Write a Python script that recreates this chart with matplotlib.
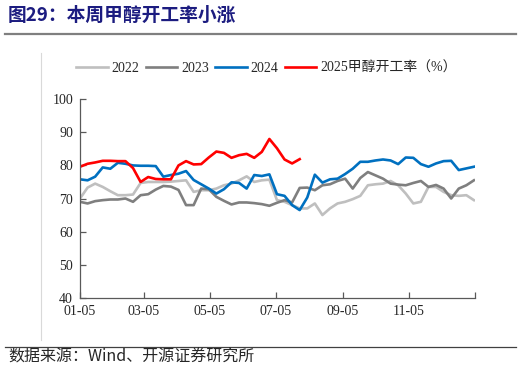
import matplotlib
matplotlib.use("Agg")
import matplotlib.pyplot as plt
import pandas as pd
from matplotlib.lines import Line2D

# ---- data ----
start = "2023-01-05"
tick_labels = ["01-05", "03-05", "05-05", "07-05", "09-05", "11-05", ""]
tick_dates = ["2023-01-05", "2023-03-05", "2023-05-05", "2023-07-05",
              "2023-09-05", "2023-11-05", "2024-01-05"]

y2022 = [70.0, 73.3, 74.5, 73.5, 72.2, 71.0, 71.0, 71.2, 74.7, 75.0,
         75.0, 75.0, 75.1, 75.3, 75.5, 72.0, 72.5, 72.5, 73.0, 74.0,
         74.5, 75.5, 76.7, 75.0, 75.5, 75.7, 69.5, 69.0, 68.0, 67.0,
         67.0, 68.5, 65.0, 67.0, 68.5, 69.0, 69.8, 70.8, 74.0, 74.3,
         74.5, 75.3, 74.0, 71.5, 68.5, 69.0, 73.5, 73.5, 72.0, 71.0,
         70.8, 71.0, 69.5]
y2023 = [69.0, 68.5, 69.2, 69.5, 69.7, 69.7, 70.0, 69.0, 71.0, 71.3,
         72.7, 73.8, 73.6, 72.6, 68.0, 68.0, 73.0, 72.8, 70.5, 69.3,
         68.2, 68.8, 68.8, 68.6, 68.3, 67.8, 68.7, 69.5, 68.8, 73.2,
         73.3, 72.5, 74.0, 74.3, 75.3, 76.0, 73.0, 76.2, 78.0, 77.0,
         76.0, 74.5, 74.2, 74.0, 74.7, 75.3, 73.5, 74.1, 73.0, 70.0,
         73.0, 74.0, 75.5]
y2024 = [75.8, 75.5, 76.6, 79.4, 79.0, 80.8, 80.5, 80.0, 79.9, 79.9,
         79.8, 76.6, 77.1, 77.5, 78.3, 75.6, 74.3, 73.0, 71.5, 72.8,
         74.9, 74.7, 73.0, 77.1, 76.8, 77.3, 71.3, 70.8, 68.0, 66.5,
         70.3, 77.2, 74.8, 75.8, 76.0, 77.4, 79.0, 81.1, 81.1, 81.5,
         81.8, 81.5, 80.4, 82.4, 82.3, 80.4, 79.6, 80.6, 81.3, 81.4,
         78.6, 79.1, 79.6]
y2025 = [79.6, 80.5, 80.9, 81.4, 81.4, 81.3, 81.3, 79.2, 75.0, 76.5,
         75.9, 75.8, 75.8, 80.0, 81.3, 80.3, 80.4, 82.4, 84.2, 83.8,
         82.3, 83.1, 83.5, 82.3, 84.1, 88.0, 85.2, 81.8, 80.6, 81.9]

series = [("2022", y2022, "#BFBFBF"),
          ("2023", y2023, "#7F7F7F"),
          ("2024", y2024, "#0070C0"),
          ("2025甲醇开工率（%）", y2025, "#FF0000")]

# ---- figure ----
W, H = 522, 377
fig = plt.figure(figsize=(W / 100, H / 100), dpi=100)
serif = ["Liberation Serif", "Noto Sans CJK SC", "DejaVu Sans"]
cjk = ["Noto Sans CJK SC", "Liberation Serif", "DejaVu Sans"]

ax = fig.add_axes([80 / W, 1 - 297.7 / H, (475 - 80) / W, (297.7 - 99.3) / H])

for name, vals, col in series:
    dates = pd.date_range(start, periods=len(vals), freq="7D")
    ax.plot(dates, vals, color=col, lw=1.9, label=name, solid_joinstyle="round")

ax.set_xlim(pd.Timestamp(tick_dates[0]), pd.Timestamp(tick_dates[-1]))
ax.set_ylim(40, 100)
ax.set_yticks([40, 50, 60, 70, 80, 90, 100])
ax.set_xticks([pd.Timestamp(d) for d in tick_dates])
ax.set_xticklabels(tick_labels)
for s in ["top", "right"]:
    ax.spines[s].set_visible(False)
for s in ["left", "bottom"]:
    ax.spines[s].set_color("#595959")
    ax.spines[s].set_linewidth(0.9)
ax.tick_params(direction="in", length=4, width=0.9, color="#595959",
               labelsize=10, labelcolor="#262626", pad=5)
for lab in ax.get_xticklabels() + ax.get_yticklabels():
    lab.set_family(serif)

handles = [Line2D([], [], color=c, lw=1.9) for _, _, c in series]
leg = fig.legend(handles, [n for n, _, _ in series], ncol=4, frameon=False,
                 loc="center left", bbox_to_anchor=(76 / W, 1 - 68 / H),
                 borderpad=0, borderaxespad=0, handlelength=2.3,
                 handletextpad=0.25, columnspacing=0.45,
                 prop={"family": serif, "size": 10})
for t in leg.get_texts():
    t.set_color("#262626")

# title
fig.text(8 / W, 1 - 15 / H, "图29：本周甲醇开工率小涨", family=cjk,
         fontsize=13.5, fontweight="bold", color="#1C1C80", va="center", ha="left")
# separator lines
fig.add_artist(Line2D([5 / W, 516 / W], [1 - 33.5 / H, 1 - 33.5 / H],
                      color="#7F7F7F", lw=1.6))
fig.add_artist(Line2D([5 / W, 516 / W], [1 - 346.5 / H, 1 - 346.5 / H],
                      color="#404040", lw=0.9))
fig.add_artist(Line2D([41 / W, 41 / W], [1 - 53 / H, 1 - 340 / H],
                      color="#D9D9D9", lw=0.8))
# footer
fig.text(8 / W, 1 - 357 / H, "数据来源：Wind、开源证券研究所", family=cjk,
         fontsize=11.5, color="#262626", va="center", ha="left")

fig.savefig("out.png", dpi=100)
